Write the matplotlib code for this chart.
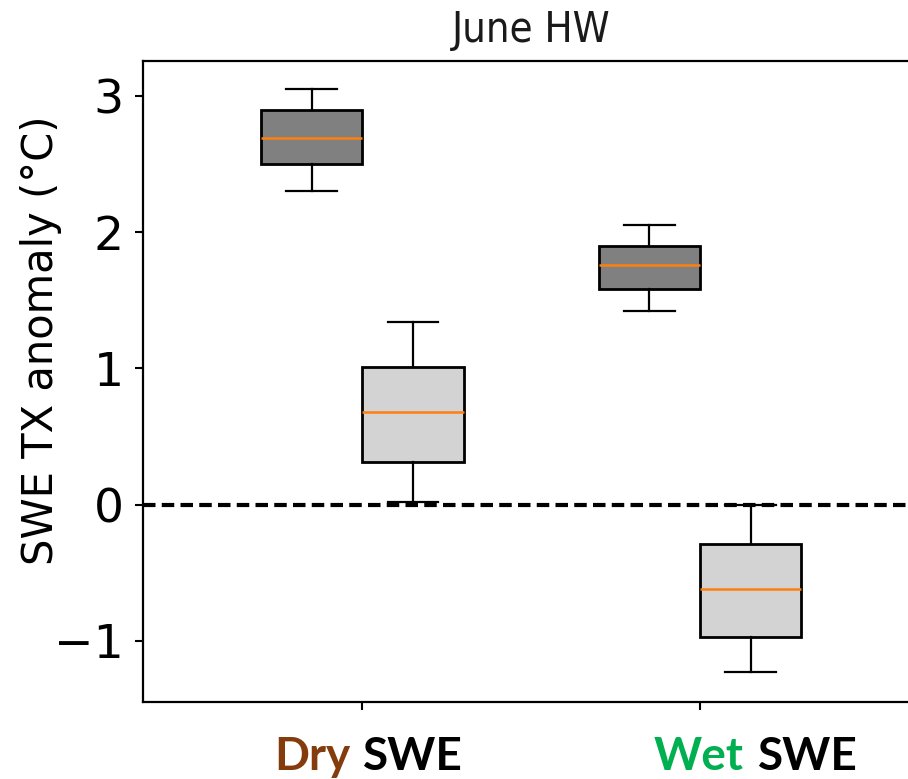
"""June HW: SWE TX anomaly boxes for dry and wet SWE years."""

import matplotlib

matplotlib.use("Agg")
import matplotlib.pyplot as plt

# box statistics (degC)
positions = [0.85, 1.15, 1.85, 2.15]
whislo = [2.30, 0.02, 1.42, -1.23]
q1 = [2.50, 0.31, 1.58, -0.97]
med = [2.69, 0.68, 1.76, -0.62]
q3 = [2.90, 1.01, 1.90, -0.29]
whishi = [3.05, 1.34, 2.05, 0.0]
fills = ["#808080", "#d3d3d3", "#808080", "#d3d3d3"]

tick_pos = [1, 2]
groups = [("Dry", "#843c0c"), ("Wet", "#00b050")]

plt.rcParams["lines.scale_dashes"] = False

fig = plt.figure(figsize=(9.08, 7.79), dpi=100)
ax = fig.add_axes([143 / 908, 1 - 701.7 / 779, 776 / 908, 641 / 779])

stats = [
    {"whislo": a, "q1": b, "med": c, "q3": d, "whishi": e, "fliers": []}
    for a, b, c, d, e in zip(whislo, q1, med, q3, whishi)
]
bp = ax.bxp(
    stats,
    positions=positions,
    widths=0.3,
    patch_artist=True,
    boxprops=dict(linewidth=2.0, edgecolor="black"),
    whiskerprops=dict(linewidth=1.6),
    capprops=dict(linewidth=1.6),
    medianprops=dict(color="#ff7f0e", linewidth=1.8),
)
for patch, col in zip(bp["boxes"], fills):
    patch.set_facecolor(col)

ax.axhline(0, color="black", lw=3, linestyle=(0, (9, 4.5)), zorder=3)

ax.set_xlim(0.351, 2.648)
ax.set_ylim(-1.447, 3.259)
ax.set_yticks([-1, 0, 1, 2, 3])
ax.set_xticks(tick_pos)
ax.set_xticklabels(["", ""])
ax.tick_params(axis="both", length=6, width=1.5, labelsize=34, pad=8)
for s in ax.spines.values():
    s.set_linewidth(1.6)

ax.set_ylabel("SWE TX anomaly (°C)", fontsize=30)
ax.yaxis.set_label_coords(-0.104, 0.564)
ax.set_title("June HW", fontsize=30, family="DejaVu Sans", fontstretch="condensed",
             color="#1a1a1a", pad=13.5)

# two-colour category labels under the axis
label_y = 1 - 770 / 779
for (word, col), (xr, xl) in zip(groups, [(350, 363), (744, 758)]):
    fig.text(xr / 908, label_y, word, color=col, ha="right", va="baseline",
             fontsize=33, family="Lato", fontweight="bold")
    fig.text(xl / 908, label_y, "SWE", color="black", ha="left", va="baseline",
             fontsize=33, family="Lato", fontweight="bold")

fig.savefig("out.png", dpi=100)
